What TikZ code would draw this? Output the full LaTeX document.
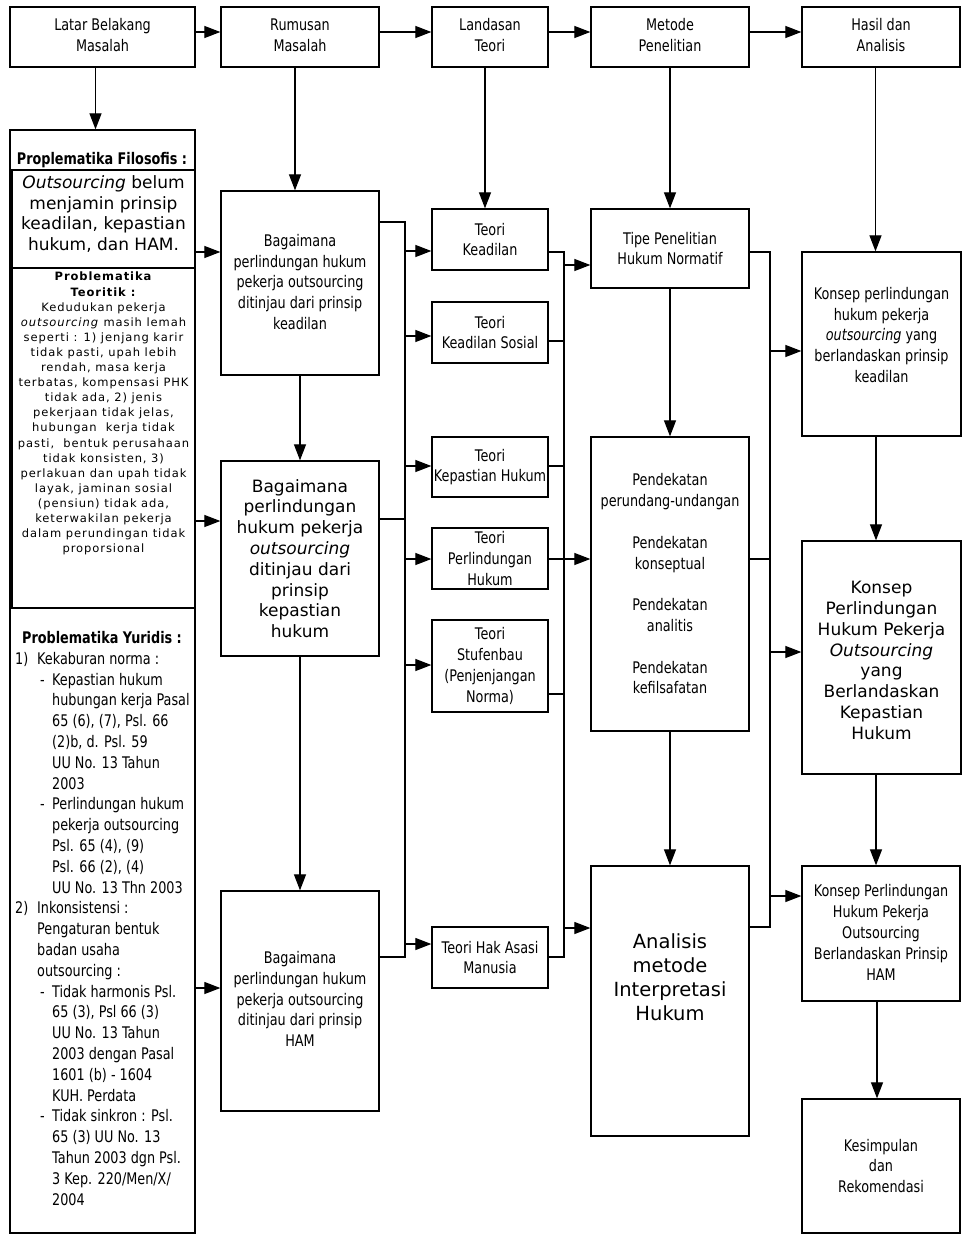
\documentclass[tikz,border=0pt]{standalone}
\usepackage{fontspec}
\setmainfont{DejaVu Sans}
\newfontfamily\NarrowF[FakeStretch=0.8]{DejaVu Sans}
\newfontfamily\SpacedF[LetterSpace=8]{DejaVu Sans}
\usetikzlibrary{arrows.meta,fit}
\newcommand{\nfs}{\NarrowF\fontsize{16}{20.8}\selectfont}
\newcommand{\wfs}{\fontsize{17}{20.8}\selectfont}
\newcommand{\BoxT}[5]{\node[bx,fit={#2#3}] (#1) {};\node[#4] (#1T) at (#1) {#5};}
\tikzset{
  bx/.style={draw, line width=1.3pt, inner sep=0pt},
  nt/.style={font=\nfs, align=center, inner sep=0pt},
  wt/.style={font=\wfs, align=center, inner sep=0pt},
  arr/.style={line width=1.2pt, -{Triangle[length=16pt,width=12pt]}},
  ln/.style={line width=1.2pt},
}
\begin{document}
\begin{tikzpicture}[x=1pt,y=-1pt]
\fill[white] (0,0) rectangle (964,1237);
\useasboundingbox (0,0) rectangle (964,1237);

% ---------- top row ----------
\BoxT{latar}{(10,7)}{(195,67)}{nt,yshift=2pt}{Latar Belakang\\Masalah}
\BoxT{rum}{(221,7)}{(379,67)}{nt,yshift=2pt}{Rumusan\\Masalah}
\BoxT{land}{(432,7)}{(548,67)}{nt,yshift=2pt}{Landasan\\Teori}
\BoxT{met}{(591,7)}{(749,67)}{nt,yshift=2pt}{Metode\\Penelitian}
\BoxT{has}{(802,7)}{(960,67)}{nt,yshift=2pt}{Hasil dan\\Analisis}

% ---------- left column ----------
\node[bx,fit={(10,130)(195,1233)}] (lbox) {};
\node[font=\NarrowF\bfseries\fontsize{16}{20}\selectfont, inner sep=0pt] (filT) at (102,160) {Proplematika Filosofis :};
\node[bx,fit={(12,170)(195,268)}] (fA) {};
\node[wt] (fAt) at (103.5,214) {\textit{Outsourcing} belum\\menjamin prinsip\\keadilan, kepastian\\hukum, dan HAM.};
\node[bx,fit={(12,268)(195,608)}] (fB) {};
\node[font=\SpacedF\fontsize{11.5}{15.1}\selectfont, align=center, inner sep=0pt, anchor=north] (fBt) at (103.5,272) {%
\textbf{Problematika}\\\textbf{Teoritik :}\\Kedudukan pekerja\\\textit{outsourcing} masih lemah\\seperti : 1) jenjang karir\\tidak pasti, upah lebih\\rendah, masa kerja\\terbatas, kompensasi PHK\\tidak ada, 2) jenis\\pekerjaan tidak jelas,\\hubungan~ kerja tidak\\pasti,~ bentuk perusahaan\\tidak konsisten, 3)\\perlakuan dan upah tidak\\layak, jaminan sosial\\(pensiun) tidak ada,\\keterwakilan pekerja\\dalam perundingan tidak\\proporsional};
\node[font=\NarrowF\bfseries\fontsize{16}{20}\selectfont, inner sep=0pt] (yurT) at (102,638) {Problematika Yuridis :};
\node[font=\nfs, align=left, inner sep=0pt, anchor=north west] (yurL) at (15,652) {%
\makebox[22pt][l]{1)}Kekaburan norma :\\
\hspace*{25pt}\makebox[12pt][l]{-}Kepastian hukum\\
\hspace*{37pt}hubungan kerja Pasal\\
\hspace*{37pt}65 (6), (7), Psl. 66\\
\hspace*{37pt}(2)b, d. Psl. 59\\
\hspace*{37pt}UU No. 13 Tahun\\
\hspace*{37pt}2003\\
\hspace*{25pt}\makebox[12pt][l]{-}Perlindungan hukum\\
\hspace*{37pt}pekerja outsourcing\\
\hspace*{37pt}Psl. 65 (4), (9)\\
\hspace*{37pt}Psl. 66 (2), (4)\\
\hspace*{37pt}UU No. 13 Thn 2003\\
\makebox[22pt][l]{2)}Inkonsistensi :\\
\hspace*{22pt}Pengaturan bentuk\\
\hspace*{22pt}badan usaha\\
\hspace*{22pt}outsourcing :\\
\hspace*{25pt}\makebox[12pt][l]{-}Tidak harmonis Psl.\\
\hspace*{37pt}65 (3), Psl 66 (3)\\
\hspace*{37pt}UU No. 13 Tahun\\
\hspace*{37pt}2003 dengan Pasal\\
\hspace*{37pt}1601 (b) - 1604\\
\hspace*{37pt}KUH. Perdata\\
\hspace*{25pt}\makebox[12pt][l]{-}Tidak sinkron : Psl.\\
\hspace*{37pt}65 (3) UU No. 13\\
\hspace*{37pt}Tahun 2003 dgn Psl.\\
\hspace*{37pt}3 Kep. 220/Men/X/\\
\hspace*{37pt}2004};

% ---------- rumusan column ----------
\BoxT{q1}{(221,191)}{(379,375)}{nt,yshift=1pt}{Bagaimana\\perlindungan hukum\\pekerja outsourcing\\ditinjau dari prinsip\\keadilan}
\BoxT{q2}{(221,461)}{(379,656)}{wt}{Bagaimana\\perlindungan\\hukum pekerja\\\textit{outsourcing}\\ditinjau dari\\prinsip\\kepastian\\hukum}
\BoxT{q3}{(221,891)}{(379,1111)}{nt,yshift=2pt}{Bagaimana\\perlindungan hukum\\pekerja outsourcing\\ditinjau dari prinsip\\HAM}

% ---------- teori column ----------
\BoxT{tk}{(432,209)}{(548,270)}{nt}{Teori\\Keadilan}
\BoxT{ts}{(432,302)}{(548,363)}{nt}{Teori\\Keadilan Sosial}
\BoxT{tkh}{(432,437)}{(548,497)}{nt}{Teori\\Kepastian Hukum}
\BoxT{tph}{(432,528)}{(548,589)}{nt}{Teori\\Perlindungan\\Hukum}
\BoxT{tst}{(432,620)}{(548,712)}{nt}{Teori\\Stufenbau\\(Penjenjangan\\Norma)}
\BoxT{tham}{(432,927)}{(548,988)}{nt}{Teori Hak Asasi\\Manusia}

% ---------- metode column ----------
\BoxT{tipe}{(591,209)}{(749,288)}{nt}{Tipe Penelitian\\Hukum Normatif}
\BoxT{pend}{(591,437)}{(749,731)}{nt}{Pendekatan\\perundang-undangan\\[20.8pt]Pendekatan\\konseptual\\[20.8pt]Pendekatan\\analitis\\[20.8pt]Pendekatan\\kefilsafatan}
\node[bx,fit={(591,866)(749,1136)}] (anal) {};
\node[font=\fontsize{19.5}{24}\selectfont, align=center, inner sep=0pt] (analT) at (670,977) {Analisis\\metode\\Interpretasi\\Hukum};

% ---------- hasil column ----------
\node[bx,fit={(802,252)(961,436)}] (kk) {};
\node[nt] (kkT) at (881.5,335) {Konsep perlindungan\\hukum pekerja\\\textit{outsourcing} yang\\berlandaskan prinsip\\keadilan};
\BoxT{kkp}{(802,541)}{(961,774)}{wt,yshift=-3pt}{Konsep\\Perlindungan\\Hukum Pekerja\\\textit{Outsourcing}\\yang\\Berlandaskan\\Kepastian\\Hukum}
\BoxT{kham}{(802,866)}{(960,1001)}{nt,yshift=1pt}{Konsep Perlindungan\\Hukum Pekerja\\Outsourcing\\Berlandaskan Prinsip\\HAM}
\BoxT{kes}{(802,1099)}{(960,1233)}{nt}{Kesimpulan\\dan\\Rekomendasi}

% ---------- top row arrows ----------
\draw[arr] ([yshift=5pt]latar.east) -- ([yshift=5pt]rum.west);
\draw[arr] ([yshift=5pt]rum.east) -- ([yshift=5pt]land.west);
\draw[arr] ([yshift=5pt]land.east) -- ([yshift=5pt]met.west);
\draw[arr] ([yshift=5pt]met.east) -- ([yshift=5pt]has.west);

% ---------- vertical arrows ----------
\draw[arr] ([xshift=-7pt]latar.south) -- ([xshift=-7pt]latar.south |- lbox.north);
\draw[arr] ([xshift=-5pt]rum.south) -- ([xshift=-5pt]rum.south |- q1.north);
\draw[arr] (q1.south) -- (q2.north);
\draw[arr] (q2.south) -- (q3.north);
\draw[arr] ([xshift=-5pt]land.south) -- ([xshift=-5pt]land.south |- tk.north);
\draw[arr] (met.south) -- (tipe.north);
\draw[arr] (tipe.south) -- (pend.north);
\draw[arr] (pend.south) -- (anal.north);
\draw[arr] ([xshift=-5.5pt]has.south) -- ([xshift=-5.5pt]has.south |- kk.north);
\draw[arr] ([xshift=-5.5pt]kk.south) -- ([xshift=-5.5pt]kk.south |- kkp.north);
\draw[arr] ([xshift=-5.5pt]kkp.south) -- ([xshift=-5.5pt]kkp.south |- kham.north);
\draw[arr] ([xshift=-4pt]kham.south) -- ([xshift=-4pt]kham.south |- kes.north);

% ---------- left box to questions ----------
\coordinate (yL1) at (0,252);
\coordinate (yL2) at (0,521);
\coordinate (yL3) at (0,988);
\draw[arr] (lbox.east |- yL1) -- (q1.west |- yL1);
\draw[arr] (lbox.east |- yL2) -- (q2.west |- yL2);
\draw[arr] (lbox.east |- yL3) -- (q3.west |- yL3);

% ---------- bus A (questions -> theories) ----------
\coordinate (bA1) at (405,222);
\coordinate (bA2) at (405,519);
\coordinate (bA3) at (405,957);
\draw[ln] (q1.east |- bA1) -- (bA1) -- (bA3) -- (q3.east |- bA3);
\draw[ln] (q2.east |- bA2) -- (bA2);
\coordinate (yA1) at (0,251);
\coordinate (yA2) at (0,336);
\coordinate (yA3) at (0,466);
\coordinate (yA4) at (0,559);
\coordinate (yA5) at (0,665);
\coordinate (yA6) at (0,944);
\draw[arr] (bA1 |- yA1) -- (tk.west |- yA1);
\draw[arr] (bA1 |- yA2) -- (ts.west |- yA2);
\draw[arr] (bA1 |- yA3) -- (tkh.west |- yA3);
\draw[arr] (bA1 |- yA4) -- (tph.west |- yA4);
\draw[arr] (bA1 |- yA5) -- (tst.west |- yA5);
\draw[arr] (bA1 |- yA6) -- (tham.west |- yA6);

% ---------- bus B (theories -> metode) ----------
\coordinate (bB1) at (564,252);
\coordinate (bB2) at (564,957);
\draw[ln] (tk.east |- bB1) -- (bB1) -- (bB2) -- (tham.east |- bB2);
\coordinate (yB2) at (0,341);
\coordinate (yB3) at (0,466);
\coordinate (yB4) at (0,559);
\coordinate (yB5) at (0,694);
\draw[ln] (ts.east |- yB2) -- (bB1 |- yB2);
\draw[ln] (tkh.east |- yB3) -- (bB1 |- yB3);
\draw[ln] (tph.east |- yB4) -- (bB1 |- yB4);
\draw[ln] (tst.east |- yB5) -- (bB1 |- yB5);
\coordinate (yB6) at (0,265);
\coordinate (yB7) at (0,928);
\draw[arr] (bB1 |- yB6) -- (tipe.west |- yB6);
\draw[arr] (bB1 |- yB4) -- (pend.west |- yB4);
\draw[arr] (bB1 |- yB7) -- (anal.west |- yB7);

% ---------- bus C (metode -> hasil) ----------
\coordinate (bC1) at (770,252);
\coordinate (bC2) at (770,927);
\draw[ln] (tipe.east |- bC1) -- (bC1) -- (bC2) -- (anal.east |- bC2);
\coordinate (yC2) at (0,559);
\draw[ln] (pend.east |- yC2) -- (bC1 |- yC2);
\coordinate (yC3) at (0,351);
\coordinate (yC4) at (0,652);
\coordinate (yC5) at (0,896);
\draw[arr] (bC1 |- yC3) -- (kk.west |- yC3);
\draw[arr] (bC1 |- yC4) -- (kkp.west |- yC4);
\draw[arr] (bC1 |- yC5) -- (kham.west |- yC5);
\end{tikzpicture}
\end{document}
